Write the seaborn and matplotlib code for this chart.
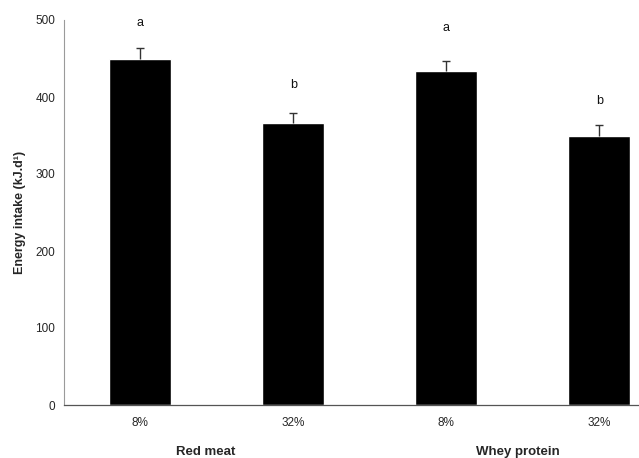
import numpy as np
import pandas as pd
import matplotlib
matplotlib.use("Agg")
import matplotlib.pyplot as plt
import seaborn as sns

sns.set_theme(style="white")
plt.rcParams["font.family"] = ["Liberation Sans", "DejaVu Sans"]

# ---------------------------------------------------------------------------
# data
# ---------------------------------------------------------------------------
sources = ["Red meat", "Red meat", "Whey protein", "Whey protein"]
protein = ["8%", "32%", "8%", "32%"]
energy = [450, 366, 434, 349]          # kJ/d
sem = [13, 13, 13, 14]
letters = ["a", "b", "a", "b"]
letter_y = [496, 416, 490, 395]
yticks = [0, 100, 200, 300, 400, 500]

df = pd.DataFrame({"source": sources, "protein": protein, "energy": energy})
df["key"] = df["source"] + " " + df["protein"]

fig = plt.figure(figsize=(6.39, 4.58), dpi=100)
# axis runs off the right edge like in the scanned original
ax = fig.add_axes([63.7 / 639, 53 / 458, 612 / 639, 385 / 458])

sns.barplot(data=df, x="key", y="energy", order=list(df["key"]),
            color="black", saturation=1, width=0.405, errorbar=None, ax=ax)

# upper-only error bars (SEM)
xpos = np.arange(len(df))
eb = ax.errorbar(xpos, energy, yerr=[np.zeros(len(sem)), sem], fmt="none",
                 ecolor="#333333", elinewidth=1.0, capsize=3, capthick=1.0)
eb[1][0].remove()

for x, y, t in zip(xpos, letter_y, letters):
    ax.text(x, y, t, ha="center", va="center", fontsize=9, color="#111111")

ax.set_xlim(-0.5, 3.5)
ax.set_ylim(0, 500)
ax.set_yticks(yticks)
ax.set_xticks(xpos)
ax.set_xticklabels(protein, fontsize=8.5)
ax.set_xticks([-0.5, 1.5, 3.5], minor=True)
ax.tick_params(axis="x", which="major", length=0, pad=9)
ax.tick_params(axis="x", which="minor", length=4, width=0.8,
               color="#555555", direction="out")
ax.tick_params(axis="y", length=4, width=0.8, color="#555555",
               direction="out", labelsize=8.5, pad=2)
ax.set_xlabel("")
ax.set_ylabel("Energy intake (kJ.d¹)", fontsize=9, fontweight="bold",
              labelpad=7)

for s in ["top", "right"]:
    ax.spines[s].set_visible(False)
ax.spines["left"].set_color("#9a9a9a")
ax.spines["left"].set_linewidth(0.8)
ax.spines["bottom"].set_color("#555555")
ax.spines["bottom"].set_linewidth(0.9)

# group labels under the tick labels
for x, name in [(0.43, "Red meat"), (2.47, "Whey protein")]:
    ax.annotate(name, xy=(x, 0), xycoords=("data", "axes fraction"),
                xytext=(0, -34), textcoords="offset points",
                ha="center", va="center", fontsize=9.5, fontweight="bold")

fig.savefig("out.png", dpi=100)
